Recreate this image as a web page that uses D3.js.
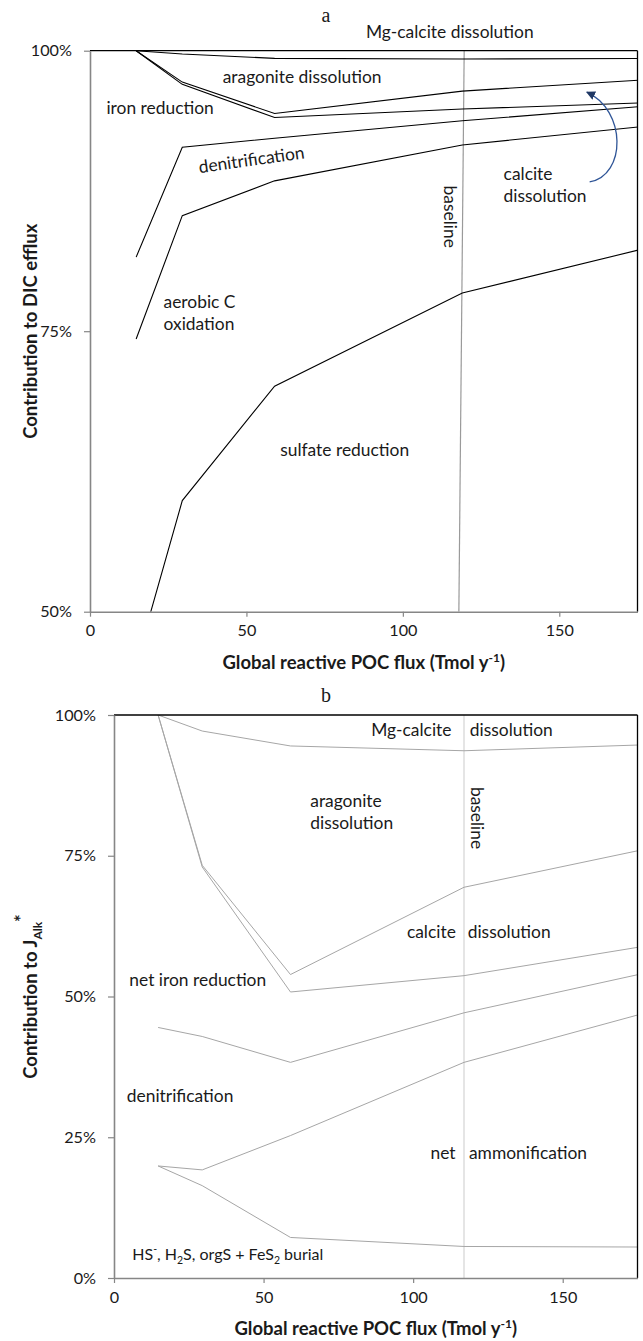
<!DOCTYPE html>
<html><head><meta charset="utf-8">
<script src="https://cdn.jsdelivr.net/npm/d3@7"></script>
<style>
body{margin:0;background:#fff}
text{font-family:Lato,"Open Sans",sans-serif;fill:#1a1a1a}
</style>
</head><body>
<svg id="c" width="643" height="1341"></svg>
<script>
// ---------- DATA ----------
const xTicks = [0, 50, 100, 150];
// panel a : contribution to DIC efflux (cumulative boundaries, %)
const xA = [14.75, 29.5, 59, 119, 177];
const mgCalciteA = [100, 99.7, 99.32, 99.26, 99.3];
const aragoniteA = [100, 97.2, 94.4, 96.4, 97.4];
const calciteA   = [100, 97.0, 94.05, 94.8, 95.35];
const ironA      = [81.6, 91.4, 92.2, 93.75, 95.05];
const denitA     = [74.3, 85.3, 88.4, 91.6, 93.25];
const aerobicA   = [45.4, 59.9, 70.1, 78.4, 82.35];
const baselineAx = [119.6, 117.9];
const baselineAy = [100, 50];
const yTicksA = [50, 75, 100];
// panel b : contribution to J_Alk* (%)
const xB = [14.75, 29.5, 59, 117, 177];
const mgCalciteB = [100, 97.15, 94.5, 93.65, 94.7];
const aragoniteB = [100, 73.3, 53.9, 69.4, 76.1];
const calciteB   = [100, 73.0, 50.8, 53.7, 58.9];
const ironB      = [44.5, 42.9, 38.3, 47.1, 54.1];
const denitB     = [19.9, 19.2, 25.3, 38.3, 47.0];
const ammonB     = [19.9, 16.4, 7.2, 5.6, 5.5];
const baselineBx = [117, 117];
const baselineBy = [0, 100];
const yTicksB = [0, 25, 50, 75, 100];

// ---------- STYLE ----------
const LABEL_FS = "17.4px", TICK_FS = "16.2px", TITLE_FS = "18.5px";

// ---------- DRAW ----------
const svg = d3.select("#c");
const defs = svg.append("defs");
defs.append("marker").attr("id","ah").attr("viewBox","0 0 10 10").attr("refX",9).attr("refY",5)
  .attr("markerWidth",7).attr("markerHeight",7).attr("orient","auto")
  .append("path").attr("d","M0,0L10,5L0,10z").attr("fill","#1f3864");

function panel(o){
  const x = d3.scaleLinear().domain([0,175]).range([o.left,o.right]);
  const y = d3.scaleLinear().domain(o.ydom).range([o.bottom,o.top]);
  const g = svg.append("g");
  const cid = "clip"+o.id;
  defs.append("clipPath").attr("id",cid).append("rect")
    .attr("x",x(0)).attr("y",y(o.ydom[1])).attr("width",x(175)-x(0)).attr("height",y(o.ydom[0])-y(o.ydom[1]));
  const pg = g.append("g").attr("clip-path",`url(#${cid})`);
  const line = d3.line().x(d=>x(d[0])).y(d=>y(d[1]));
  pg.append("path").attr("d",line(d3.zip(o.bx,o.by))).attr("fill","none")
    .attr("stroke",o.baseColor).attr("stroke-width",1.2);
  o.series.forEach(s=>{
    pg.append("path").attr("d",line(d3.zip(o.xs,s))).attr("fill","none")
      .attr("stroke",o.lineColor).attr("stroke-width",o.lineWidth);
  });
  // frame top/right
  g.append("line").attr("x1",x(0)).attr("x2",x(175)).attr("y1",y(o.ydom[1])).attr("y2",y(o.ydom[1]))
    .attr("stroke","#000").attr("stroke-width",1.3);
  g.append("line").attr("x1",x(175)).attr("x2",x(175)).attr("y1",y(o.ydom[1])).attr("y2",y(o.ydom[0]))
    .attr("stroke","#000").attr("stroke-width",1.3);
  // axes
  const ax = g.append("g").attr("transform",`translate(0,${y(o.ydom[0])})`)
    .call(d3.axisBottom(x).tickValues(xTicks).tickSize(5).tickSizeOuter(0).tickPadding(8));
  const ay = g.append("g").attr("transform",`translate(${x(0)},0)`)
    .call(d3.axisLeft(y).tickValues(o.yticks).tickFormat(d=>d+"%").tickSize(6).tickSizeOuter(0).tickPadding(12));
  [ax,ay].forEach(a=>{
    a.select(".domain").attr("stroke","#868686").attr("stroke-width",1.6);
    a.selectAll(".tick line").attr("stroke","#868686").attr("stroke-width",1.2);
    a.selectAll(".tick text").style("font-size",TICK_FS).style("font-family","Lato").attr("fill","#1a1a1a");
  });
  // x title
  const xt = g.append("text").attr("x",(x(0)+x(175))/2).attr("y",y(o.ydom[0])+57)
    .attr("text-anchor","middle").style("font-size",TITLE_FS).style("font-weight","bold");
  xt.append("tspan").text("Global reactive POC flux (Tmol y");
  xt.append("tspan").text("-1").attr("dy",-7).style("font-size","12px");
  xt.append("tspan").text(")").attr("dy",7);
  // panel title
  g.append("text").attr("x",o.titleX).attr("y",y(o.ydom[1])-o.titleOff).attr("text-anchor","middle")
    .style("font-family","'Liberation Serif','Times New Roman',serif").style("font-size","20px").text(o.title);
  // labels
  o.labels.forEach(l=>{
    const t = g.append("text").attr("x",x(l.x)).attr("y",y(l.y)).attr("text-anchor",l.anchor||"middle")
      .attr("dominant-baseline","middle").style("font-size",l.fs||LABEL_FS);
    if(l.rot) t.attr("transform",`rotate(${l.rot},${x(l.x)},${y(l.y)})`);
    if(l.parts){
      l.parts.forEach(p=>{
        const ts=t.append("tspan").text(p.t);
        if(p.sup){ts.attr("dy",-6).style("font-size","10.5px");}
        if(p.sub){ts.attr("dy",5).style("font-size","10.5px");}
        if(p.reset){ts.attr("dy",p.reset);}
      });
    } else {
      l.lines.forEach((s,i)=>t.append("tspan").attr("x",x(l.x)).attr("dy",i?22:0).text(s));
    }
  });
  return {x,y,g};
}

const A = panel({id:"a",left:90,right:637.5,top:50.7,bottom:611.7,ydom:[50,100],yticks:yTicksA,
  xs:xA,series:[mgCalciteA,aragoniteA,calciteA,ironA,denitA,aerobicA],
  bx:baselineAx,by:baselineAy,lineColor:"#000",lineWidth:1.1,baseColor:"#9a9a9a",
  title:"a",titleX:326,titleOff:29,
  labels:[
    {lines:["Mg-calcite dissolution"],x:115,y:101.45},
    {lines:["aragonite dissolution"],x:67.8,y:97.45},
    {lines:["iron reduction"],x:22.4,y:94.7},
    {lines:["denitrification"],x:51.7,y:90.1,rot:-8},
    {lines:["calcite","dissolution"],x:132.2,y:88.8,anchor:"start"},
    {lines:["baseline"],x:114.4,y:85.2,rot:90},
    {lines:["aerobic C","oxidation"],x:23.5,y:77.4,anchor:"start"},
    {lines:["sulfate reduction"],x:81.4,y:64.2}
  ]});
// y title a
svg.append("text").attr("transform",`translate(37,${(A.y(50)+A.y(100))/2}) rotate(-90)`)
  .attr("text-anchor","middle").style("font-size",TITLE_FS).style("font-weight","bold")
  .text("Contribution to DIC efflux");
// arrow (panel a), in data coordinates
const arrowPts = [[159.7,88.3],[171.5,88.9],[171.5,94.7],[158.8,96.3]];
const ap = d3.path();
ap.moveTo(A.x(arrowPts[0][0]),A.y(arrowPts[0][1]));
ap.bezierCurveTo(A.x(arrowPts[1][0]),A.y(arrowPts[1][1]),A.x(arrowPts[2][0]),A.y(arrowPts[2][1]),A.x(arrowPts[3][0]),A.y(arrowPts[3][1]));
svg.append("path").attr("d",ap.toString()).attr("fill","none").attr("stroke","#2f5597")
  .attr("stroke-width",1.3).attr("marker-end","url(#ah)");

const B = panel({id:"b",left:114,right:637.5,top:715,bottom:1278,ydom:[0,100],yticks:yTicksB,
  xs:xB,series:[mgCalciteB,aragoniteB,calciteB,ironB,denitB,ammonB],
  bx:baselineBx,by:baselineBy,lineColor:"#a6a6a6",lineWidth:1,baseColor:"#d4d4d4",
  title:"b",titleX:326,titleOff:13,
  labels:[
    {lines:["Mg-calcite"],x:99.4,y:96.9},
    {lines:["dissolution"],x:132.8,y:96.9},
    {lines:["aragonite","dissolution"],x:65.6,y:84.3,anchor:"start"},
    {lines:["baseline"],x:120.6,y:81.7,rot:90},
    {lines:["calcite"],x:106.1,y:61.05},
    {lines:["dissolution"],x:132.1,y:61.05},
    {lines:["net iron reduction"],x:28,y:52.6},
    {lines:["denitrification"],x:22.1,y:31.9},
    {lines:["net"],x:110,y:21.85},
    {lines:["ammonification"],x:138.4,y:21.85},
    {parts:[{t:"HS"},{t:"-",sup:1},{t:", H",reset:6},{t:"2",sub:1},{t:"S, orgS + FeS",reset:-5},{t:"2",sub:1},{t:" burial",reset:-5}],
     x:6.1,y:3.9,anchor:"start",fs:"16px"}
  ]});
// y title b
const ytb = svg.append("text").attr("transform",`translate(37,${(B.y(0)+B.y(100))/2}) rotate(-90)`)
  .attr("text-anchor","middle").style("font-size",TITLE_FS).style("font-weight","bold");
ytb.append("tspan").text("Contribution to J");
ytb.append("tspan").text("Alk").attr("dy",5).style("font-size","12px");
ytb.append("tspan").text("*").attr("dy",-14).style("font-size","18px");
</script>
</body></html>
